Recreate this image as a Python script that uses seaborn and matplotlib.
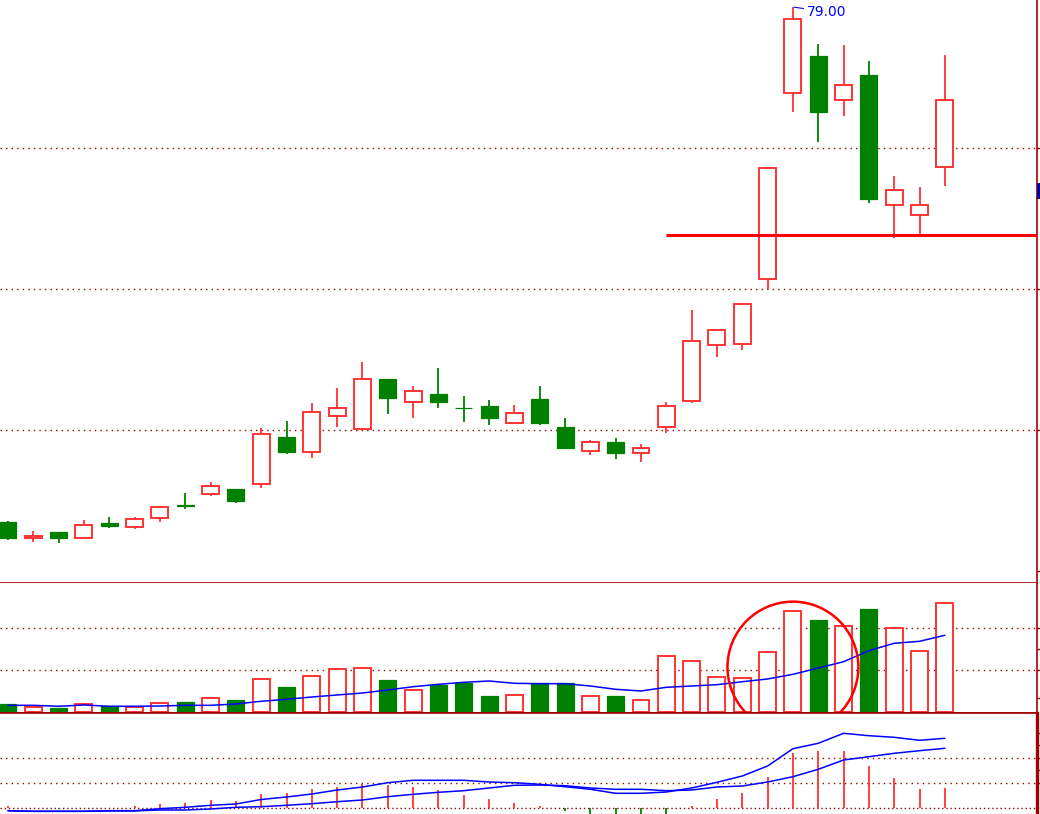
import matplotlib
matplotlib.use("Agg")
import matplotlib.pyplot as plt
from matplotlib.patches import Ellipse, Rectangle
import numpy as np
import pandas as pd
import seaborn as sns

sns.set_style("white")

# daily bars, oldest first
opens = [42.48, 41.32, 41.77, 41.32, 42.40, 42.10, 42.74, 43.66, 44.44, 44.82,
         45.15, 48.50, 47.42, 49.97, 49.05, 52.62, 50.96, 51.55, 50.54, 50.70,
         49.48, 51.20, 49.21, 47.49, 48.15, 47.35, 49.19, 51.04, 55.01, 55.08,
         59.69, 72.88, 75.52, 72.38, 74.18, 64.94, 64.23, 67.63]
highs = [42.55, 41.84, 41.77, 42.62, 42.83, 42.83, 43.52, 44.53, 45.31, 44.82,
         49.14, 49.64, 50.91, 51.98, 53.82, 52.62, 52.12, 53.40, 51.41, 51.13,
         50.77, 52.12, 49.85, 48.29, 48.43, 48.01, 50.99, 57.51, 56.16, 57.91,
         67.56, 79.00, 76.38, 76.30, 75.17, 67.01, 66.23, 75.60]
lows = [41.22, 41.04, 41.01, 41.30, 42.07, 42.00, 42.50, 43.42, 44.34, 43.84,
        44.91, 47.32, 47.04, 49.23, 49.03, 50.16, 49.87, 50.58, 49.59, 49.38,
        49.46, 49.38, 47.67, 47.25, 46.96, 46.75, 48.81, 50.94, 54.20, 54.70,
        58.98, 71.57, 69.45, 71.29, 65.12, 62.64, 62.83, 66.33]
closes = [41.36, 41.46, 41.36, 42.24, 42.21, 42.67, 43.52, 43.64, 45.01, 43.99,
          48.70, 47.46, 50.26, 50.54, 52.60, 51.29, 51.74, 51.01, 50.53, 49.87,
          50.18, 49.52, 47.74, 48.13, 47.39, 47.70, 50.68, 55.29, 56.07, 57.91,
          67.56, 78.13, 71.57, 73.45, 65.40, 66.00, 64.94, 72.40]

volumes = [1830, 1050, 880, 1760, 1290, 1050, 2000, 2310, 3190, 2790,
           7710, 5880, 8430, 10100, 10330, 7550, 5100, 6360, 6900, 3740,
           3900, 6760, 6760, 3670, 3740, 2710, 13190, 12000, 8190, 7950,
           14140, 23900, 21830, 20330, 24450, 19860, 14380, 25810]
vol_ma = [1520, 1520, 1290, 1600, 1290, 1290, 1360, 1520, 1520, 1830,
          2480, 2950, 3500, 3980, 4450, 5170, 5950, 6520, 7000, 7310,
          6760, 6670, 6670, 6120, 5330, 4930, 5810, 6120, 6430, 7140,
          7790, 8900, 10400, 11900, 14520, 16290, 16760, 18190]

dif = [-0.12, -0.144, -0.144, -0.144, -0.12, -0.12, -0.04, 0.016, 0.096, 0.148,
       0.328, 0.428, 0.548, 0.708, 0.828, 1.0, 1.096, 1.096, 1.096, 1.028,
       1.0, 0.936, 0.84, 0.736, 0.576, 0.576, 0.628, 0.788, 1.016, 1.268,
       1.668, 2.36, 2.576, 2.976, 2.88, 2.816, 2.696, 2.776]
dea = [-0.12, -0.144, -0.144, -0.144, -0.128, -0.128, -0.092, -0.092, -0.052, 0.016,
       0.04, 0.096, 0.16, 0.24, 0.308, 0.44, 0.536, 0.616, 0.68, 0.788,
       0.896, 0.908, 0.88, 0.788, 0.736, 0.736, 0.68, 0.708, 0.828, 0.868,
       1.028, 1.24, 1.536, 1.908, 2.04, 2.176, 2.28, 2.376]
macd_hist = [0.056, 0.0, -0.04, 0.0, 0.0, 0.068, 0.148, 0.188, 0.308, 0.268,
             0.548, 0.588, 0.748, 0.816, 0.948, 0.908, 0.828, 0.72, 0.508, 0.348,
             0.188, 0.056, -0.132, -0.35, -0.4, -0.4, -0.35, 0.068, 0.348, 0.588,
             1.228, 2.188, 2.268, 2.268, 1.668, 1.188, 0.748, 0.788]

peak_label = "79.00"
support_price = 62.83
support_from = 26
price_grid = [49, 59, 69]
price_ticks = [39, 49, 59, 69]
vol_grid = [10000, 20000]
vol_ticks = [3300, 10000, 15000, 20000]
macd_grid = [1.0, 2.0]
macd_ticks = [1.0, 1.5, 2.0, 2.5, 3.0]

RED = "#ff3333"
GREEN = "#008000"
BLUE = "#0000ff"
AXIS = "#a00000"
GRID = "#990000"

df = pd.DataFrame({"open": opens, "high": highs, "low": lows, "close": closes,
                   "vol": volumes, "vol_ma": vol_ma, "dif": dif, "dea": dea,
                   "hist": macd_hist})
df["x"] = np.arange(len(df))
up = (df["close"] >= df["open"]).values
x = df["x"].values
body_lo = np.minimum(df["open"], df["close"]).values
body_hi = np.maximum(df["open"], df["close"]).values

W, H = 1040, 814
fig = plt.figure(figsize=(W / 100, H / 100), dpi=100)
fig.patch.set_facecolor("white")
right = 1037 / W
ax = fig.add_axes([0, 1 - 583 / H, right, 583 / H])
axv = fig.add_axes([0, 1 - 713 / H, right, 130 / H])
axm = fig.add_axes([0, 0, right, 101 / H])

xlim = (-0.316, 40.64)
bw = 0.67

# --- price panel
for g in price_grid:
    ax.axhline(g, color=GRID, lw=1.0, ls=(0, (1, 3)), zorder=1)
ax.vlines(x, df["low"], df["high"], colors=np.where(up, RED, GREEN), lw=1.3, zorder=2)
ax.bar(x[up], (body_hi - body_lo)[up], bottom=body_lo[up], width=bw,
       facecolor="white", edgecolor=RED, lw=1.4, zorder=3)
ax.bar(x[~up], (body_hi - body_lo)[~up], bottom=body_lo[~up], width=bw,
       facecolor=GREEN, edgecolor=GREEN, lw=0.9, zorder=3)
ax.hlines(support_price, support_from, xlim[1], color="#ff0000", lw=2.2, zorder=4)
ipk = int(np.argmax(highs))
ax.annotate(peak_label, xy=(ipk, highs[ipk]), xytext=(10, -3.5), textcoords="offset points",
            color=BLUE, fontsize=10, ha="left", va="center",
            arrowprops=dict(arrowstyle="-", color=BLUE, lw=0.8, shrinkA=0, shrinkB=1))
ax.set_ylim(38.149, 79.496)
ax.set_yticks(price_ticks)

# --- volume panel
for g in vol_grid:
    axv.axhline(g, color=GRID, lw=1.0, ls=(0, (1, 3)), zorder=1)
axv.bar(x[up], df["vol"].values[up], width=bw, facecolor="white", edgecolor=RED, lw=1.4, zorder=2)
axv.bar(x[~up], df["vol"].values[~up], width=bw, facecolor=GREEN, edgecolor=GREEN, lw=0.9, zorder=2)
sns.lineplot(data=df, x="x", y="vol_ma", ax=axv, color=BLUE, lw=1.1, zorder=3)
axv.add_patch(Ellipse((31.0, 10600), width=5.17, height=31200, fill=False,
                      edgecolor="#ff0000", lw=1.8, zorder=4))
axv.set_ylim(-310, 30643)
axv.set_yticks(vol_ticks)

# --- MACD panel
for g in macd_grid:
    axm.axhline(g, color=GRID, lw=1.0, ls=(0, (1, 3)), zorder=1)
axm.axhline(0, color=GRID, lw=1.0, ls=(0, (1, 2)), zorder=1)
axm.vlines(x, 0, df["hist"], colors=np.where(df["hist"] >= 0, RED, GREEN), lw=1.3, zorder=2)
sns.lineplot(data=df, x="x", y="dif", ax=axm, color=BLUE, lw=1.1, zorder=3)
sns.lineplot(data=df, x="x", y="dea", ax=axm, color=BLUE, lw=1.1, zorder=3)
axm.set_ylim(-0.252, 3.788)
axm.set_yticks(macd_ticks)

for a in (ax, axv, axm):
    a.set_xlim(*xlim)
    a.set_xticks([])
    a.set_xlabel("")
    a.set_ylabel("")
    a.set_facecolor("white")
    a.spines["left"].set_visible(False)
    a.spines["top"].set_visible(False)
    a.spines["bottom"].set_visible(True)
    for s in ("right", "bottom", "top"):
        a.spines[s].set_color(AXIS)
        a.spines[s].set_linewidth(1.2)
    a.yaxis.tick_right()
    a.tick_params(axis="y", which="both", direction="out", length=2.5, width=1.0,
                  color=AXIS, labelright=False, labelleft=False, left=False, right=True)
axm.spines["bottom"].set_visible(False)
axm.spines["top"].set_visible(True)
axm.spines["right"].set_linewidth(2.4)

# current price marker on the right axis
fig.add_artist(Rectangle((1037 / W, 1 - 198.3 / H), 3 / W, 15.6 / H, transform=fig.transFigure,
                         facecolor="#0000b0", edgecolor="#000060", lw=0.6, clip_on=False))

fig.savefig("out.png", dpi=100)
